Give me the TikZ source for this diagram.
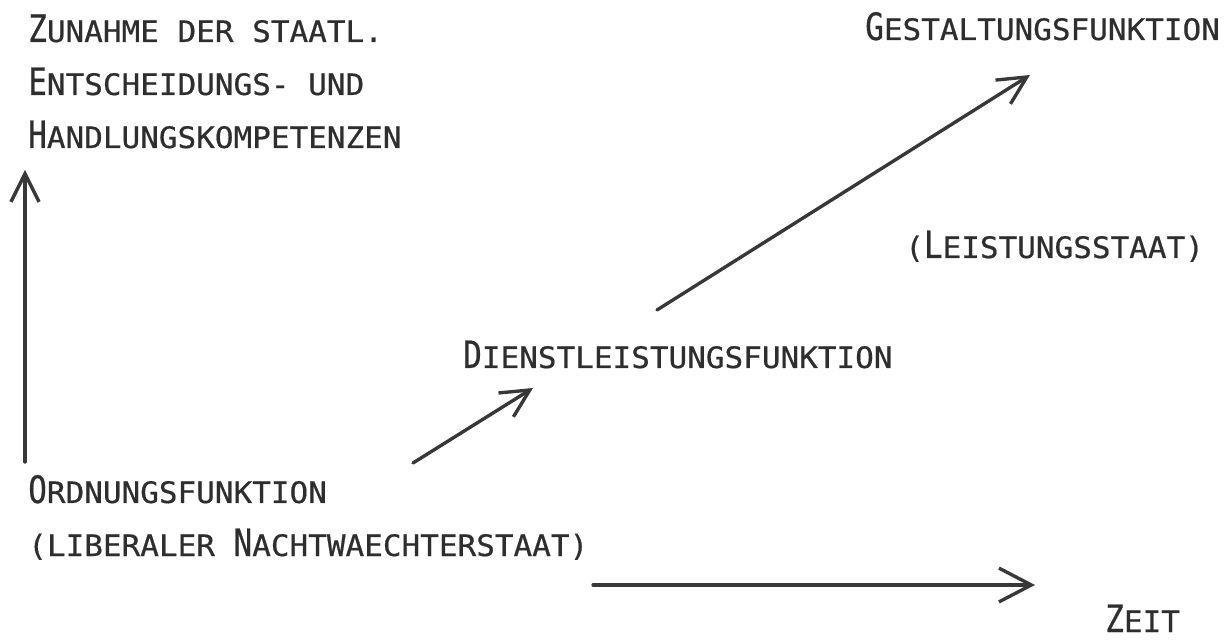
\documentclass[tikz,border=0pt]{standalone}
\usepackage{fontspec}
\usetikzlibrary{arrows.meta}
\newfontfamily\labelfont[FakeStretch=1.05, FakeBold=0.6]{DejaVu Sans Mono}
\newfontfamily\initfont[FakeStretch=0.82, FakeBold=0.6]{DejaVu Sans Mono}
\newcommand{\Ini}[1]{{\initfont\fontsize{26.8}{37.7}\selectfont #1}}

\begin{document}
\begin{tikzpicture}[
        x=0.025cm, y=0.025cm,
        lbl/.style={inner sep=0pt, anchor=base west, align=left, text=black!82, font=\labelfont\fontsize{21}{37.7}\selectfont},
        arrow/.style={-{Straight Barb[length=20pt, width=20pt]}, line width=2.4pt, draw=black!78, line cap=round}
    ]
    \useasboundingbox (0,0) rectangle (1230,639);

    % Axis label (top left)
    \node[lbl] (achse) at (28,491) {\Ini{Z}UNAHME DER STAATL.\\\Ini{E}NTSCHEIDUNGS- UND\\\Ini{H}ANDLUNGSKOMPETENZEN};

    % Functions
    \node[lbl] (ordnung) at (28,83) {\Ini{O}RDNUNGSFUNKTION\\(LIBERALER \Ini{N}ACHTWAECHTERSTAAT)};
    \node[lbl] (dienst) at (463,271) {\Ini{D}IENSTLEISTUNGSFUNKTION};
    \node[lbl] (gestalt) at (865,599) {\Ini{G}ESTALTUNGSFUNKTION};
    \node[lbl] (leistung) at (905,381) {(\Ini{L}EISTUNGSSTAAT)};

    % Time label
    \node[lbl] (zeit) at (1105,7) {\Ini{Z}EIT};

    % Arrow ends
    \coordinate (yfuss) at (25,177);
    \coordinate (yspitze) at (25,469);
    \coordinate (tfuss) at (593,54);
    \coordinate (tspitze) at (1035,54);
    \coordinate (afuss) at (413,176);
    \coordinate (aspitze) at (533,251);
    \coordinate (bfuss) at (657,329);
    \coordinate (bspitze) at (1030,564);

    % Arrows
    \draw[arrow] (yfuss) -- (yspitze);
    \draw[arrow, -{Straight Barb[length=23pt, width=24pt]}] (tfuss) -- (tspitze);
    \draw[arrow] (afuss) -- (aspitze);
    \draw[arrow] (bfuss) -- (bspitze);

\end{tikzpicture}
\end{document}
